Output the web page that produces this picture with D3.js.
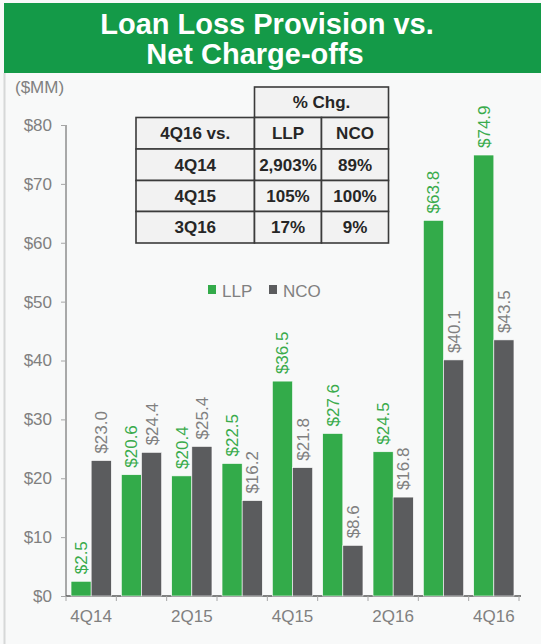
<!DOCTYPE html>
<html>
<head>
<meta charset="utf-8">
<script src="https://cdn.jsdelivr.net/npm/d3@7"></script>
<style>
  html, body { margin: 0; padding: 0; background: #f8f9f9; }
  svg { display: block; font-family: Arial, 'Liberation Sans', sans-serif; }
</style>
</head>
<body>
<div id="chart"></div>
<script>
// data
var quarters = ['4Q14', '1Q15', '2Q15', '3Q15', '4Q15', '1Q16', '2Q16', '3Q16', '4Q16']
var llp = [2.5, 20.6, 20.4, 22.5, 36.5, 27.6, 24.5, 63.8, 74.9]
var nco = [23.0, 24.4, 25.4, 16.2, 21.8, 8.6, 16.8, 40.1, 43.5]
var yTicks = [0, 10, 20, 30, 40, 50, 60, 70, 80]
var xLabels = ['4Q14', '2Q15', '4Q15', '2Q16', '4Q16']

var tableHead = ['4Q16 vs.', 'LLP', 'NCO']
var tableQuarters = ['4Q14', '4Q15', '3Q16']
var llpChg = ['2,903%', '105%', '17%']
var ncoChg = ['89%', '100%', '9%']

var width = 541
var height = 644
var margin = {left: 66, right: 22, top: 125, bottom: 48}
var green = '#33ab4a'
var gray = '#5b5c5e'
var textGray = '#808080'

var svg = d3.select('#chart')
  .append('svg')
  .attr('width', width)
  .attr('height', height)

svg.append('rect')
  .attr('width', width)
  .attr('height', height)
  .attr('fill', '#f8f9f9')

// left border line
svg.append('line')
  .attr('x1', 4.5).attr('x2', 4.5)
  .attr('y1', 73).attr('y2', height)
  .attr('stroke', '#d6d8d8')
  .attr('stroke-width', 2)

// title banner
svg.append('rect')
  .attr('x', 4).attr('y', 3)
  .attr('width', width - 4).attr('height', 70)
  .attr('fill', '#149a48')

svg.append('text')
  .attr('x', 267).attr('y', 34)
  .attr('text-anchor', 'middle')
  .attr('fill', '#fff')
  .style('font-size', '29px')
  .style('font-weight', 'bold')
  .text('Loan Loss Provision vs.')
svg.append('text')
  .attr('x', 255).attr('y', 64)
  .attr('text-anchor', 'middle')
  .attr('fill', '#fff')
  .style('font-size', '29px')
  .style('font-weight', 'bold')
  .text('Net Charge-offs')

svg.append('text')
  .attr('x', 15).attr('y', 93)
  .attr('fill', textGray)
  .style('font-size', '17px')
  .text('($MM)')

var chartWidth = width - margin.left - margin.right
var chartHeight = height - margin.top - margin.bottom

var chart = svg.append('g')
  .attr('transform', 'translate(' + margin.left + ',' + margin.top + ')')

var xScale = d3.scaleBand()
  .domain(quarters)
  .range([0, chartWidth])
  .paddingInner(0.2)
  .paddingOuter(0.1)
  .align(0.5)

var yScale = d3.scaleLinear()
  .domain([0, 80])
  .range([chartHeight, 0])

var barW = xScale.bandwidth() / 2

// y axis
var yAxis = d3.axisLeft(yScale)
  .tickValues(yTicks)
  .tickSize(5)
  .tickPadding(9)
  .tickFormat(function (d) { return '$' + d })
var yAxisG = chart.append('g').call(yAxis)
yAxisG.select('.domain').attr('stroke', '#595959').attr('d', 'M0,0V' + chartHeight)
yAxisG.selectAll('.tick line').attr('stroke', '#a6a6a6')
yAxisG.selectAll('text')
  .attr('fill', textGray)
  .style('font-size', '17px')
  .style('font-family', 'Arial, "Liberation Sans", sans-serif')

// x axis: ticks sit between quarters, labels every other quarter
var step = xScale.step()
var x0 = xScale(quarters[0]) - xScale.paddingOuter() * step
var xAxisG = chart.append('g')
  .attr('transform', 'translate(0,' + chartHeight + ')')
xAxisG.append('line')
  .attr('x1', 0).attr('x2', chartWidth + 2)
  .attr('stroke', '#595959')
  .attr('stroke-width', 1.5)
var boundaries = d3.range(quarters.length + 1).map(function (i) { return x0 + i * step })
xAxisG.selectAll('.xtick')
  .data(boundaries)
  .enter()
  .append('line')
  .attr('x1', function (d) { return d })
  .attr('x2', function (d) { return d })
  .attr('y1', 0).attr('y2', 5)
  .attr('stroke', '#a6a6a6')
xAxisG.selectAll('.xlabel')
  .data(xLabels)
  .enter()
  .append('text')
  .attr('x', function (d) { return xScale(d) + xScale.bandwidth() / 2 })
  .attr('y', 26)
  .attr('text-anchor', 'middle')
  .attr('fill', textGray)
  .style('font-size', '17px')
  .text(function (d) { return d })

// bars
var series = [
  {name: 'LLP', values: llp, color: green, label: '#3aab4c', offset: 0},
  {name: 'NCO', values: nco, color: gray, label: textGray, offset: 1}
]

series.forEach(function (s) {
  var g = chart.append('g')
  g.selectAll('rect')
    .data(s.values)
    .enter()
    .append('rect')
    .attr('x', function (d, i) { return xScale(quarters[i]) + s.offset * barW })
    .attr('y', function (d) { return yScale(d) })
    .attr('width', barW)
    .attr('height', function (d) { return chartHeight - yScale(d) })
    .attr('fill', s.color)
    .attr('stroke', '#ffffff')
    .attr('stroke-width', 0.6)

  g.selectAll('text')
    .data(s.values)
    .enter()
    .append('text')
    .attr('transform', function (d, i) {
      var cx = xScale(quarters[i]) + s.offset * barW + barW / 2 + 6
      return 'translate(' + cx + ',' + (yScale(d) - 7) + ') rotate(-90)'
    })
    .attr('fill', s.label)
    .style('font-size', '17px')
    .text(function (d) { return '$' + d.toFixed(1) })
})

// legend
var legend = svg.append('g').attr('transform', 'translate(208,285)')
var legendItems = legend.selectAll('g')
  .data(series)
  .enter()
  .append('g')
  .attr('transform', function (d, i) { return 'translate(' + (i * 61) + ',0)' })
legendItems.append('rect')
  .attr('width', 8).attr('height', 9)
  .attr('fill', function (d) { return d.color })
legendItems.append('text')
  .attr('x', 14).attr('y', 12)
  .attr('fill', textGray)
  .style('font-size', '17px')
  .text(function (d) { return d.name })

// % change table
var colX = [136, 254.5, 321.5, 388.5]
var rowY = [117.5, 149, 180.5, 211.5, 243]
var table = svg.append('g')
var cellStyle = function (sel) {
  sel.attr('fill', '#f2f2f2')
    .attr('stroke', '#3b3b3b')
    .attr('stroke-width', 1.6)
}
var textStyle = function (sel) {
  sel.attr('text-anchor', 'middle')
    .attr('fill', '#262626')
    .style('font-size', '17px')
    .style('font-weight', 'bold')
}

table.append('rect')
  .attr('x', colX[1]).attr('y', 87)
  .attr('width', colX[3] - colX[1]).attr('height', rowY[0] - 87)
  .call(cellStyle)
table.append('text')
  .attr('x', (colX[1] + colX[3]) / 2).attr('y', 108)
  .call(textStyle)
  .text('% Chg.')

var rows = [tableHead].concat(tableQuarters.map(function (q, i) {
  return [q, llpChg[i], ncoChg[i]]
}))

rows.forEach(function (row, r) {
  row.forEach(function (cell, c) {
    table.append('rect')
      .attr('x', colX[c]).attr('y', rowY[r])
      .attr('width', colX[c + 1] - colX[c])
      .attr('height', rowY[r + 1] - rowY[r])
      .call(cellStyle)
    table.append('text')
      .attr('x', (colX[c] + colX[c + 1]) / 2)
      .attr('y', (rowY[r] + rowY[r + 1]) / 2 + 6)
      .call(textStyle)
      .text(cell)
  })
})
</script>
</body>
</html>
